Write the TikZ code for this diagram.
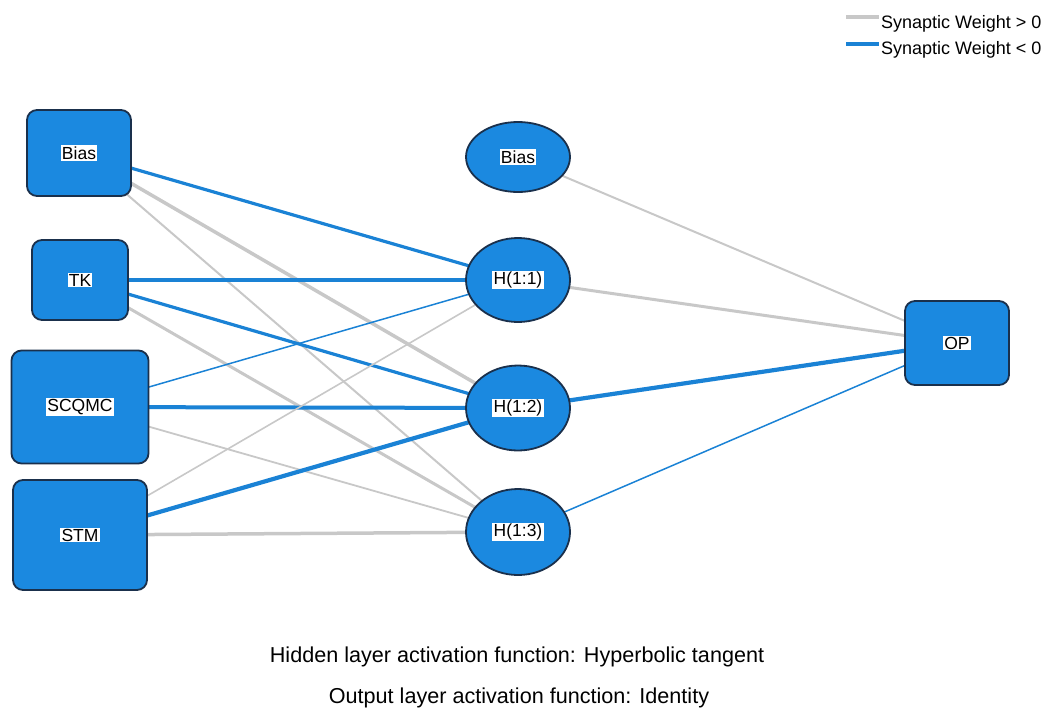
\documentclass[tikz,border=0pt]{standalone}
\usepackage{fontspec}
\setmainfont{Liberation Sans}
\usetikzlibrary{backgrounds}
\usetikzlibrary{positioning}
\usetikzlibrary{shapes.geometric}

\definecolor{unitfill}{RGB}{27,137,224}
\definecolor{unitline}{RGB}{26,48,76}
\definecolor{wneg}{RGB}{26,130,213}
\definecolor{wpos}{RGB}{200,200,200}

% white patch behind each unit name
\newcommand{\unitname}[1]{{\setlength{\fboxsep}{1.2pt}\colorbox{white}{#1}}}

\begin{document}
\begin{tikzpicture}[x=1pt,y=-1pt,
    unit/.style={draw=unitline,line width=1.8pt,fill=unitfill,inner sep=0pt,
                 font=\fontsize{17.5}{20}\selectfont},
    inbox/.style={unit,rectangle,rounded corners=10pt},
    hidunit/.style={unit,ellipse,minimum width=104pt},
    pos/.style={draw=wpos,line width=#1pt},
    neg/.style={draw=wneg,line width=#1pt}]

  \useasboundingbox (0,0) rectangle (1046,710);

  % input layer
  \node [inbox,minimum width=104pt,minimum height=86pt]  (iBias)  at (79,153) {\unitname{Bias}};
  \node [inbox,minimum width=96pt,minimum height=80pt]   (iTK)    at (80,280) {\unitname{TK}};
  \node [inbox,minimum width=137pt,minimum height=113pt] (iSCQMC) at (80,407) {\unitname{SCQMC}};
  \node [inbox,minimum width=134pt,minimum height=110pt] (iSTM)   at (80,535) {\unitname{STM}};

  % hidden layer
  \node [hidunit,minimum height=70pt] (hBias) at (518,157) {\unitname{Bias}};
  \node [hidunit,minimum height=84pt] (h1)    at (518,280) {\unitname{H(1:1)}};
  \node [hidunit,minimum height=85pt] (h2)    at (518,408) {\unitname{H(1:2)}};
  \node [hidunit,minimum height=86pt] (h3)    at (518,532) {\unitname{H(1:3)}};

  % output layer
  \node [inbox,minimum width=104pt,minimum height=84pt] (oOP) at (957,343) {\unitname{OP}};

  \begin{scope}[on background layer]
    \path
      (iBias.center)  edge [neg=3.2] (h1.center)
      (iBias.center)  edge [pos=3.5] (h2.center)
      (iBias.center)  edge [pos=2]   (h3.center)
      (iTK.center)    edge [neg=3.8] (h1.center)
      (iTK.center)    edge [neg=3.2] (h2.center)
      (iTK.center)    edge [pos=3]   (h3.center)
      (iSCQMC.center) edge [neg=1.5] (h1.center)
      (iSCQMC.center) edge [neg=4]   (h2.center)
      (iSCQMC.center) edge [pos=1.8] (h3.center)
      (iSTM.center)   edge [pos=1.6] (h1.center)
      (iSTM.center)   edge [neg=4.2] (h2.center)
      (iSTM.center)   edge [pos=3.5] (h3.center);

    \path
      (hBias.center) edge [pos=2]   (oOP.center)
      (h1.center)    edge [pos=3]   (oOP.center)
      (h2.center)    edge [neg=4.2] (oOP.center)
      (h3.center)    edge [neg=1.5] (oOP.center);
  \end{scope}

  % legend
  \node [anchor=base west,inner sep=0pt,font=\fontsize{18}{20}\selectfont] (lgPos) at (881,28) {Synaptic Weight > 0};
  \node [anchor=base west,inner sep=0pt,font=\fontsize{18}{20}\selectfont] (lgNeg) at (881,54) {Synaptic Weight < 0};
  \coordinate (lgPosEnd) at (846,17);
  \coordinate (lgNegEnd) at (846,44);
  \draw [pos=3.5] (lgPosEnd) -- ([xshift=-2pt]lgPosEnd -| lgPos.west);
  \draw [neg=3.5] (lgNegEnd) -- ([xshift=-2pt]lgNegEnd -| lgNeg.west);

  % activation functions
  \node [anchor=base,inner sep=0pt,font=\fontsize{21.6}{24}\selectfont] (actHid) at (517,662)
    {Hidden layer activation function: Hyperbolic tangent};
  \node [anchor=base,inner sep=0pt,font=\fontsize{21.6}{24}\selectfont] (actOut) at (519,703)
    {Output layer activation function: Identity};

\end{tikzpicture}
\end{document}
